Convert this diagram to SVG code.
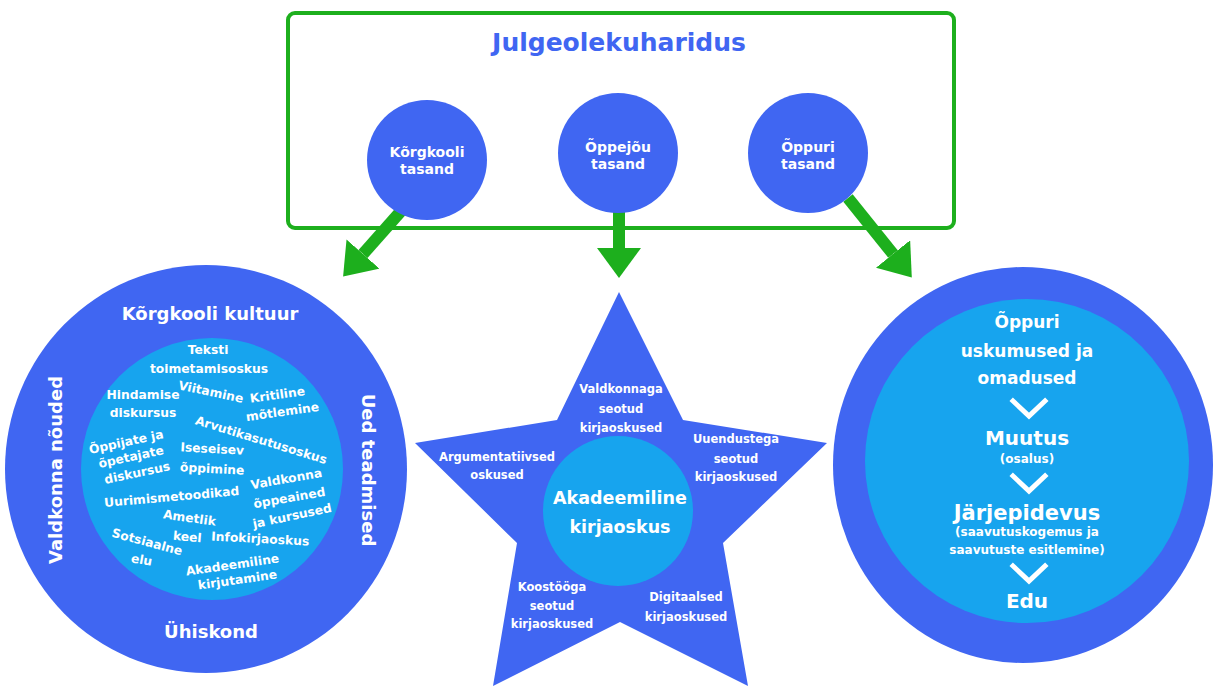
<svg xmlns="http://www.w3.org/2000/svg" width="1215" height="686" viewBox="0 0 1215 686">
<defs>
<style>
text{font-family:"DejaVu Sans","Open Sans",sans-serif;font-weight:700;text-anchor:middle;fill:#ffffff}
.blue{fill:#4066F2}
.light{fill:#17A4EE}
.title{fill:#4066F2;font-size:25px}
.lvl{font-size:14px}
.outer{font-size:18px}
.cloud{font-size:12.3px}
.star{font-size:11.5px}
.center{font-size:17.5px}
.big{font-size:20px}
.jarj{font-size:21px}
.mid{font-size:17px}
.small{font-size:12px}
.conn{stroke:#1DAF1D;stroke-width:12;fill:none}
.chev{stroke:#ffffff;stroke-width:5;fill:none;stroke-linecap:square}
</style>
<marker id="head" viewBox="0 0 30 44" refX="0" refY="22" markerWidth="30" markerHeight="44" markerUnits="userSpaceOnUse" orient="auto">
<path d="M0,0 L30,22 L0,44 z" fill="#1DAF1D"/>
</marker>
</defs>
<rect width="1215" height="686" fill="#ffffff"/>

<g id="box">
<rect x="288" y="13" width="666" height="215" rx="7" fill="#ffffff" stroke="#1DAF1D" stroke-width="4"/>
<text class="title" x="619" y="51">Julgeolekuharidus</text>
</g>

<g id="connectors">
<line class="conn" x1="402" y1="210" x2="363" y2="254" marker-end="url(#head)"/>
<line class="conn" x1="619" y1="210" x2="619" y2="248" marker-end="url(#head)"/>
<line class="conn" x1="848" y1="198" x2="893" y2="254" marker-end="url(#head)"/>
</g>

<g id="korgkooli-tasand">
<circle class="blue" cx="427" cy="160" r="60"/>
<text class="lvl" x="427" y="157">Kõrgkooli</text>
<text class="lvl" x="427" y="174">tasand</text>
</g>
<g id="oppejou-tasand">
<circle class="blue" cx="618" cy="153" r="60"/>
<text class="lvl" x="618" y="152">Õppejõu</text>
<text class="lvl" x="618" y="169">tasand</text>
</g>
<g id="oppuri-tasand">
<circle class="blue" cx="808" cy="153" r="60"/>
<text class="lvl" x="808" y="152">Õppuri</text>
<text class="lvl" x="808" y="169">tasand</text>
</g>

<g id="korgkooli-kultuur">
<ellipse class="blue" cx="206" cy="469" rx="201" ry="204"/>
<circle class="light" cx="212" cy="469" r="131"/>
<text class="outer" x="210" y="320">Kõrgkooli kultuur</text>
<text class="outer" x="211" y="638">Ühiskond</text>
<text class="outer" transform="translate(62,470) rotate(-90)">Valdkonna nõuded</text>
<text class="outer" transform="translate(362,470) rotate(90)">Ued teadmised</text>
<g class="cloud">
<text x="208" y="354">Teksti</text>
<text x="209" y="373">toimetamisoskus</text>
<text x="143" y="399">Hindamise</text>
<text x="143" y="417">diskursus</text>
<text transform="translate(210,396) rotate(12)">Viitamine</text>
<text transform="translate(278,399) rotate(-8)">Kritiline</text>
<text transform="translate(283,416) rotate(-8)">mõtlemine</text>
<text transform="translate(260,444) rotate(17)">Arvutikasutusoskus</text>
<text transform="translate(127,446) rotate(-12)">Õppijate ja</text>
<text transform="translate(132,461) rotate(-12)">õpetajate</text>
<text transform="translate(138,477) rotate(-12)">diskursus</text>
<text transform="translate(212,453) rotate(3)">Iseseisev</text>
<text transform="translate(212,473) rotate(3)">õppimine</text>
<text transform="translate(287,483) rotate(-10)">Valdkonna</text>
<text transform="translate(172,501) rotate(-5)">Uurimismetoodikad</text>
<text transform="translate(290,502) rotate(-10)">õppeained</text>
<text transform="translate(293,520) rotate(-12)">ja kursused</text>
<text transform="translate(189,522) rotate(8)">Ametlik</text>
<text transform="translate(187,541) rotate(5)">keel</text>
<text transform="translate(260,543) rotate(3)">Infokirjaoskus</text>
<text transform="translate(146,546) rotate(15)">Sotsiaalne</text>
<text transform="translate(141,564) rotate(10)">elu</text>
<text transform="translate(233,569) rotate(-8)">Akadeemiline</text>
<text transform="translate(238,584) rotate(-8)">kirjutamine</text>
</g>
</g>

<g id="akadeemiline-kirjaoskus">
<polygon class="blue" points="619,292 683,420 827,443 723,543 748,686 620,622 493,686 517,543 415,443 557,420"/>
<circle class="light" cx="618" cy="511" r="75"/>
<text class="center" x="620" y="504">Akadeemiline</text>
<text class="center" x="620" y="533">kirjaoskus</text>
<g class="star">
<text x="621" y="393">Valdkonnaga</text>
<text x="621" y="413">seotud</text>
<text x="621" y="432">kirjaoskused</text>
<text x="497" y="461">Argumentatiivsed</text>
<text x="497" y="479">oskused</text>
<text x="736" y="443">Uuendustega</text>
<text x="736" y="463">seotud</text>
<text x="736" y="481">kirjaoskused</text>
<text x="552" y="591">Koostööga</text>
<text x="552" y="610">seotud</text>
<text x="552" y="628">kirjaoskused</text>
<text x="686" y="601">Digitaalsed</text>
<text x="686" y="621">kirjaoskused</text>
</g>
</g>

<g id="oppuri-uskumused">
<ellipse class="blue" cx="1023" cy="465" rx="190" ry="198"/>
<circle class="light" cx="1027" cy="461" r="162"/>
<text class="mid" x="1027" y="328">Õppuri</text>
<text class="mid" x="1027" y="357">uskumused ja</text>
<text class="mid" x="1027" y="384">omadused</text>
<polyline class="chev" points="1013,401 1029,416 1045,401"/>
<text class="big" x="1027" y="445">Muutus</text>
<text class="small" x="1027" y="463">(osalus)</text>
<polyline class="chev" points="1013,476 1029,491 1045,476"/>
<text class="jarj" x="1027" y="520">Järjepidevus</text>
<text class="small" x="1027" y="536">(saavutuskogemus ja</text>
<text class="small" x="1027" y="554">saavutuste esitlemine)</text>
<polyline class="chev" points="1013,566 1029,581 1045,566"/>
<text class="big" x="1027" y="608">Edu</text>
</g>
</svg>
